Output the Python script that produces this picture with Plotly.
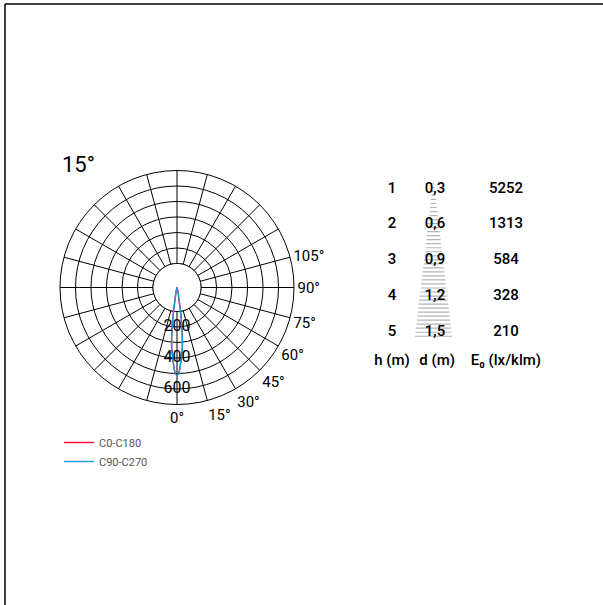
import numpy as np
import plotly.graph_objects as go

# ---- data ----
beam_title = "15°"
lobe_theta = [0, 1, 2, 3, 4, 5, 6, 7, 8, 9, 10]
lobe_r = [510, 503, 468, 422, 377, 339, 277, 200, 123, 36, -55]
radial_labels = [200, 400, 600]
angle_labels = ["0°", "15°", "30°", "45°", "60°", "75°", "90°", "105°"]

heights = [1, 2, 3, 4, 5]
diameters = ["0,3", "0,6", "0,9", "1,2", "1,5"]
illuminance = [5252, 1313, 584, 328, 210]
headers = ["h (m)", "d (m)", "E₀ (lx/klm)"]

# ---- geometry helpers ----
theta_full = [-t for t in lobe_theta[::-1]] + lobe_theta[1:]
r_full = lobe_r[::-1] + lobe_r[1:]

RED = "#ff0033"
BLUE = "#1b9ad8"
FONT = "Roboto"

fig = go.Figure()

# inner white disk (hides spokes in the centre)
disk_theta = list(np.arange(0, 361, 3))
fig.add_trace(go.Scatterpolar(r=[100] * len(disk_theta), theta=disk_theta, mode="lines",
                              fill="toself", fillcolor="white",
                              line=dict(color="black", width=1),
                              showlegend=False, hoverinfo="skip"))

fig.add_trace(go.Scatterpolar(r=r_full, theta=theta_full, mode="lines", name="C0-C180",
                              line=dict(color=RED, width=1.4, shape="spline")))
fig.add_trace(go.Scatterpolar(r=r_full, theta=theta_full, mode="lines", name="C90-C270",
                              line=dict(color=BLUE, width=1.4, shape="spline")))

fig.add_trace(go.Scatterpolar(r=radial_labels, theta=[0] * len(radial_labels), mode="text",
                              text=[str(v) for v in radial_labels],
                              textfont=dict(family=FONT, size=16, color="black"),
                              textposition="middle center",
                              showlegend=False, hoverinfo="skip"))

# ---- table (cartesian) ----
col_x = [0, 1, 2.65]
cone_levels = np.linspace(0.73, 5.12, 40)
cone_x, cone_y = [], []
for h in cone_levels:
    hw = 0.43 * (h - 0.73) / (5.12 - 0.73)
    cone_x += [col_x[1] - 0.035 - hw, col_x[1] - 0.035 + hw, None]
    cone_y += [h, h, None]
fig.add_trace(go.Scatter(x=cone_x, y=cone_y, mode="lines", xaxis="x", yaxis="y",
                         line=dict(color="#b5b5b5", width=1.2),
                         showlegend=False, hoverinfo="skip"))

tfont = dict(family="Roboto Medium, Roboto", size=15, color="black", weight=500)
fig.add_trace(go.Scatter(x=[col_x[0]] * 5, y=heights, text=[str(h) for h in heights],
                         mode="text", textfont=tfont, showlegend=False, hoverinfo="skip"))
fig.add_trace(go.Scatter(x=[col_x[1]] * 5, y=heights, text=diameters,
                         mode="text", textfont=tfont, showlegend=False, hoverinfo="skip"))
fig.add_trace(go.Scatter(x=[col_x[2]] * 5, y=heights, text=[str(e) for e in illuminance],
                         mode="text", textfont=tfont, showlegend=False, hoverinfo="skip"))
fig.add_trace(go.Scatter(x=[col_x[0], col_x[1] + 0.05, col_x[2]], y=[5.81] * 3, text=headers,
                         mode="text", textfont=tfont, showlegend=False, hoverinfo="skip"))

tickvals = list(range(0, 360, 15))
ticktext = [angle_labels[i] if i < len(angle_labels) else "" for i in range(len(tickvals))]

fig.update_layout(
    width=603, height=605,
    margin=dict(l=0, r=0, t=0, b=0),
    paper_bgcolor="white", plot_bgcolor="white",
    font=dict(family=FONT, color="black"),
    title=dict(text=beam_title, x=62 / 603, y=1 - 164 / 605, xanchor="left", yanchor="middle",
               font=dict(family=FONT, size=22, color="black")),
    polar=dict(
        domain=dict(x=[(177 - 117) / 603, (177 + 117) / 603],
                    y=[(317.5 - 117) / 605, (317.5 + 117) / 605]),
        bgcolor="white",
        radialaxis=dict(range=[-55, 700], tickmode="array", tickvals=[100, 200, 300, 400, 500, 600, 700],
                        showticklabels=False, ticks="", showline=False,
                        gridcolor="black", gridwidth=1, angle=270),
        angularaxis=dict(rotation=270, direction="counterclockwise", tickmode="array",
                         tickvals=tickvals, ticktext=ticktext, ticks="",
                         showline=True, linecolor="black", linewidth=1,
                         gridcolor="black", gridwidth=1,
                         tickfont=dict(family=FONT, size=15, color="black")),
    ),
    xaxis=dict(domain=[370.5 / 603, 542.5 / 603], range=[-0.5, 3.5], visible=False, fixedrange=True),
    yaxis=dict(domain=[1 - 385.6 / 605, 1 - 153.25 / 605], range=[6.5, 0], visible=False, fixedrange=True),
    showlegend=True,
    legend=dict(x=59 / 603, y=1 - 428 / 605, xanchor="left", yanchor="top",
                font=dict(family=FONT, size=11, color="#555555"), bgcolor="rgba(0,0,0,0)"),
    shapes=[
        dict(type="line", xref="paper", yref="paper", x0=5 / 603, x1=1, y0=1 - 4 / 605, y1=1 - 4 / 605,
             line=dict(color="black", width=1.5)),
        dict(type="line", xref="paper", yref="paper", x0=5 / 603, x1=5 / 603, y0=0, y1=1 - 4 / 605,
             line=dict(color="black", width=1.5)),
    ],
)

fig.write_html("out.html", config={"displayModeBar": False},
               post_script="document.body.style.margin='0px';document.body.style.overflow='hidden';")
